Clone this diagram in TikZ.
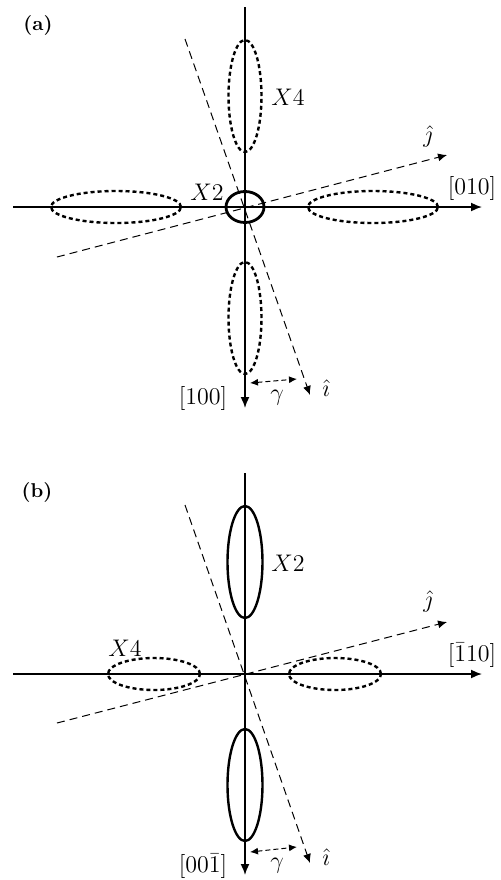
\documentclass[tikz,border=0pt]{standalone}
\usetikzlibrary{arrows.meta,shapes.geometric}
\tikzset{
	axis/.style={line width=0.8pt, -{Latex[length=5.5pt,width=4.5pt]}},
	guide/.style={line width=0.5pt, dash pattern=on 4pt off 2.5pt},
	lobe/.style={ellipse, draw, inner sep=0pt, line width=1.2pt},
	dlobe/.style={lobe, dash pattern=on 2pt off 1.5pt},
	vlobe/.style={minimum width=16.5pt, minimum height=56pt},
	lab/.style={font=\large},
}
\begin{document}
\begin{tikzpicture}[x=0.5pt, y=-0.5pt]
	\useasboundingbox (0,0) rectangle (500,880) ;
	% panel (a)
		\node (pa)[font=\bfseries] at (38,25) {(a)} ;
		\coordinate (ta) at (245,7) ; \coordinate (ba) at (245,408) ;
		\coordinate (la) at (13,207) ; \coordinate (ra) at (482,207) ;
		\node (x4t)[dlobe, vlobe] at (245,96) {} ;
		\node (x4b)[dlobe, vlobe] at (245,318) {} ;
		\node (x4l)[dlobe, minimum width=65pt, minimum height=16pt] at (116,207) {} ;
		\node (x4r)[dlobe, minimum width=65pt, minimum height=16pt] at (373,207) {} ;
		\node (x2a)[lobe, line width=1.4pt, minimum width=19pt, minimum height=15.5pt] at (245,207) {} ;
	\draw[axis] (ta) -- (ba) ;
	\draw[axis] (la) -- (ra) ;
		\coordinate (ia0) at (185,39) ; \coordinate (ia) at (310,395) ;
		\coordinate (ja0) at (57,257) ; \coordinate (ja) at (447,155) ;
	\draw[guide, -{Latex[length=4.5pt,width=4pt]}] (ia0) -- (ia) ;
	\draw[guide, -{Latex[length=4.5pt,width=4pt]}] (ja0) -- (ja) ;
		\coordinate (ga0) at (250,383) ; \coordinate (ga1) at (297,379) ;
	\draw[guide, dash pattern=on 2.5pt off 1.5pt, {Latex[length=4pt,width=3.5pt]}-{Latex[length=4pt,width=3.5pt]}] (ga0) -- (ga1) ;
		\node (gla)[lab] at (277,398) {$\gamma$} ;
		\node (ila)[lab] at (326,388) {$\hat{\imath}$} ;
		\node (jla)[lab] at (428,136) {$\hat{\jmath}$} ;
		\node (d010)[lab] at (472,188) {$[010]$} ;
		\node (d100)[lab] at (203,398) {$[100]$} ;
		\node (l4a)[lab] at (288,97) {$X4$} ;
		\node (l2a)[lab] at (207,192) {$X2$} ;
	% panel (b)
		\node (pb)[font=\bfseries] at (37,492) {(b)} ;
		\coordinate (tb) at (245,473) ; \coordinate (bb) at (245,875) ;
		\coordinate (lb) at (13,674) ; \coordinate (rb) at (482,674) ;
		\node (x2t)[lobe, vlobe, minimum width=17.5pt] at (245,562) {} ;
		\node (x2b)[lobe, vlobe, minimum width=17.5pt] at (245,785) {} ;
		\node (x4bl)[dlobe, minimum width=46pt, minimum height=16pt] at (154,674) {} ;
		\node (x4br)[dlobe, minimum width=46pt, minimum height=16pt] at (335,674) {} ;
	\draw[axis] (tb) -- (bb) ;
	\draw[axis] (lb) -- (rb) ;
		\coordinate (ib0) at (185,505) ; \coordinate (ib) at (310,863) ;
		\coordinate (jb0) at (57,723) ; \coordinate (jb) at (447,622) ;
	\draw[guide, -{Latex[length=4.5pt,width=4pt]}] (ib0) -- (ib) ;
	\draw[guide, -{Latex[length=4.5pt,width=4pt]}] (jb0) -- (jb) ;
		\coordinate (gb0) at (250,852) ; \coordinate (gb1) at (297,847) ;
	\draw[guide, dash pattern=on 2.5pt off 1.5pt, {Latex[length=4pt,width=3.5pt]}-{Latex[length=4pt,width=3.5pt]}] (gb0) -- (gb1) ;
		\node (glb)[lab] at (277,866) {$\gamma$} ;
		\node (ilb)[lab] at (326,857) {$\hat{\imath}$} ;
		\node (jlb)[lab] at (428,601) {$\hat{\jmath}$} ;
		\node (d110)[lab] at (472,655) {$[\bar{1}10]$} ;
		\node (d001)[lab] at (203,866) {$[00\bar{1}]$} ;
		\node (l2b)[lab] at (288,563) {$X2$} ;
		\node (l4b)[lab] at (125,648) {$X4$} ;
\end{tikzpicture}
\end{document}
